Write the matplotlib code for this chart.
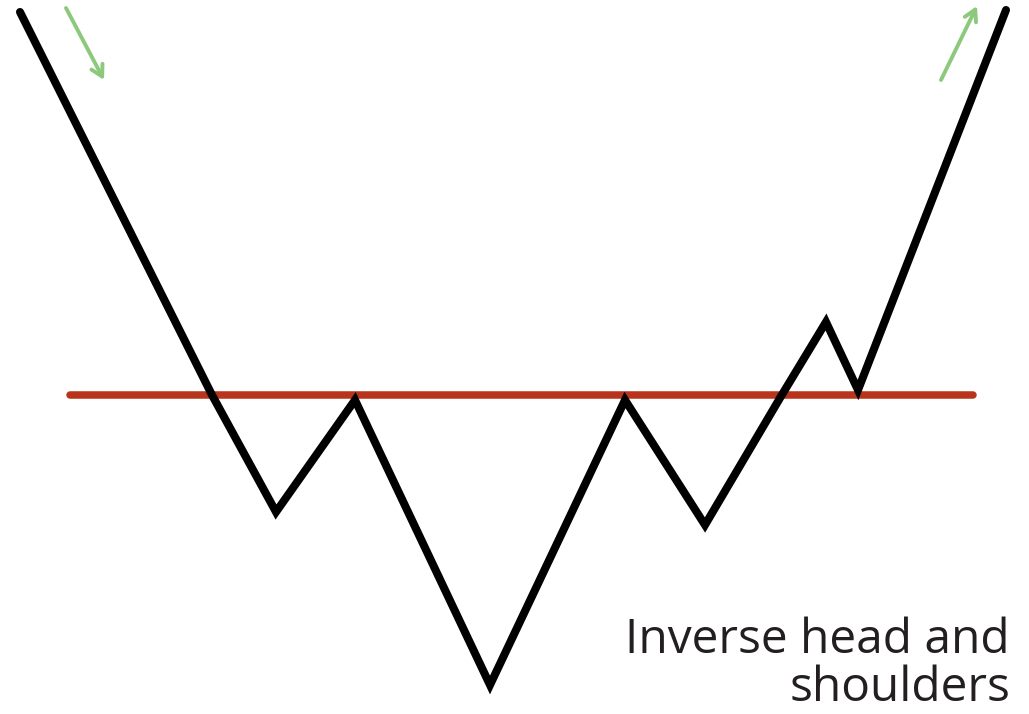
import matplotlib
matplotlib.use("Agg")
import matplotlib.pyplot as plt

# Pattern pivot points (time, price) in chart units
time = [20, 212, 276, 355, 490, 625, 705, 780, 826, 858, 1006]
price = [702, 319, 202, 314, 29, 314, 189, 316, 392, 324, 704]

neckline_time = [70, 973]
neckline_price = [319, 319]

arrow_down = [(66, 706), (104, 634)]
arrow_up = [(941, 634), (977, 708)]

label = "Inverse head and\nshoulders"

fig = plt.figure(figsize=(10.29, 7.14), dpi=100)
ax = fig.add_axes([0, 0, 1, 1])
ax.set_xlim(0, 1029)
ax.set_ylim(0, 714)
ax.axis("off")

ax.plot(neckline_time, neckline_price, color="#b8341b", lw=5.4,
        solid_capstyle="round", zorder=2)
ax.plot(time, price, color="black", lw=5.8, solid_joinstyle="miter",
        solid_capstyle="round", zorder=3)

green = "#8cc97c"
for (a, b) in (arrow_down, arrow_up):
    ax.annotate("", xy=b, xytext=a,
                arrowprops=dict(arrowstyle="->,head_length=0.8,head_width=0.45",
                                color=green, lw=2.8, capstyle="round",
                                shrinkA=0, shrinkB=0))

ax.text(1010, 2, label, ha="right", va="bottom", fontsize=34.5,
        family=["Open Sans", "DejaVu Sans"], color="#231f20", linespacing=1.02)

fig.savefig("out.png", dpi=100)
